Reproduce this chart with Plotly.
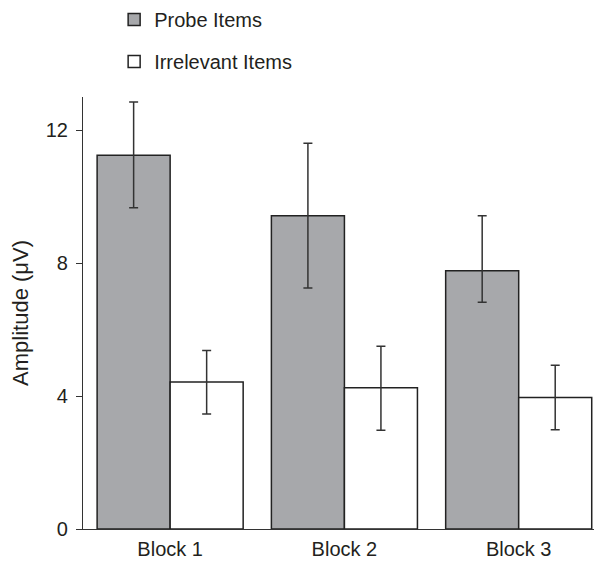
import plotly.graph_objects as go

categories = ["Block 1", "Block 2", "Block 3"]
probe_mean = [11.25, 9.43, 7.77]
probe_err_plus = [1.60, 2.18, 1.66]
probe_err_minus = [1.58, 2.18, 0.95]
irr_mean = [4.42, 4.25, 3.96]
irr_err_plus = [0.95, 1.25, 0.97]
irr_err_minus = [0.96, 1.28, 0.97]
y_ticks = [0, 4, 8, 12]

FONT = "Liberation Sans, Arial, Helvetica, sans-serif"
ERR = dict(type="data", symmetric=False, color="#333333", thickness=1.5, width=4.5)

fig = go.Figure()
fig.add_trace(go.Bar(
    x=categories, y=probe_mean, name="Probe Items", legendgroup="probe",
    marker=dict(color="#a7a8ab", line=dict(color="#222222", width=1.5)),
    error_y=dict(array=probe_err_plus, arrayminus=probe_err_minus, **ERR),
))
fig.add_trace(go.Bar(
    x=categories, y=irr_mean, name="Irrelevant Items", legendgroup="irr",
    marker=dict(color="#ffffff", line=dict(color="#222222", width=1.5)),
    error_y=dict(array=irr_err_plus, arrayminus=irr_err_minus, **ERR),
))

# Page body has an 8px default margin, so the figure is sized/offset to compensate.
fig.update_layout(
    width=594, height=555,
    margin=dict(l=75, r=0, t=89, b=34, autoexpand=False),
    paper_bgcolor="white", plot_bgcolor="white",
    barmode="group", bargap=0.162, bargroupgap=0,
    font=dict(family=FONT, size=20, color="#231f20"),
    showlegend=True,
    legend=dict(x=0.06, y=1.2247, xref="paper", yref="paper", xanchor="left", yanchor="top",
                font=dict(size=20), bgcolor="rgba(0,0,0,0)", tracegroupgap=13,
                traceorder="grouped"),
)
fig.update_xaxes(range=[-0.5, 2.478], showline=True, linecolor="#333333", linewidth=1.2,
                 ticks="", showgrid=False, zeroline=False, tickfont=dict(size=20),
                 ticklabelstandoff=2)
fig.update_yaxes(range=[0, 13], tickvals=y_ticks, showline=True, linecolor="#333333", linewidth=1.2,
                 ticks="outside", ticklen=6, tickcolor="#333333", tickwidth=1.2,
                 ticklabelstandoff=4,
                 showgrid=False, zeroline=False, tickfont=dict(size=20),
                 title=dict(text="Amplitude (μV)", font=dict(size=22), standoff=14))

fig.write_html("out.html")
